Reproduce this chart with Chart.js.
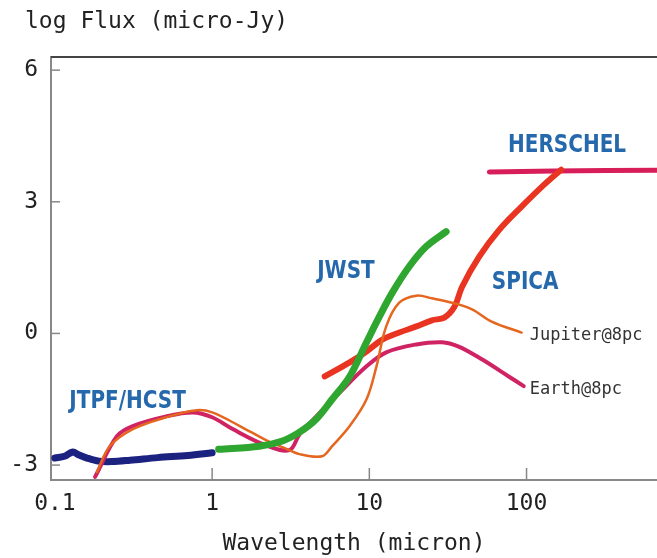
<!DOCTYPE html>
<html>
<head>
<meta charset="utf-8">
<script src="https://cdn.jsdelivr.net/npm/chart.js@4.4.0/dist/chart.umd.min.js"></script>
<style>
	html, body { margin: 0; padding: 0; background: #ffffff; }
</style>
</head>
<body>
<canvas id="flux" width="657" height="558"></canvas>
<script>
// Tick values and labels of both axes.
const xTickValues = [ 0.1, 1, 10, 100 ];
const xTickLabels = [ "0.1", "1", "10", "100" ];
const yTickValues = [ -3, 0, 3, 6 ];
const yTickLabels = [ "-3", "0", "3", "6" ];

// JTPF/HCST sensitivity (wavelength in micron, log flux in micro-Jy).
const jtpfWavelength = [ 0.1, 0.115, 0.13, 0.14, 0.16, 0.19, 0.23, 0.3, 0.45, 0.7, 1.0 ];
const jtpfFlux = [ -2.84, -2.8, -2.7, -2.76, -2.84, -2.91, -2.92, -2.89, -2.83, -2.78, -2.72 ];

// JWST sensitivity.
const jwstWavelength = [ 1.1, 2.0, 2.8, 3.6, 4.6, 5.8, 7.5, 9.6, 11.6, 14, 17.9, 23, 30.8 ];
const jwstFlux = [ -2.64, -2.57, -2.45, -2.25, -1.95, -1.5, -0.98, -0.2, 0.39, 0.93, 1.52, 1.98, 2.32 ];

// SPICA sensitivity.
const spicaWavelength = [ 5.2, 7.5, 9.6, 12.1, 15.5, 19.9, 25, 30, 34.7, 39, 50, 67, 93, 125, 166 ];
const spicaFlux = [ -0.98, -0.66, -0.41, -0.14, 0.02, 0.16, 0.3, 0.36, 0.6, 1.07, 1.75, 2.36, 2.89, 3.34, 3.73 ];

// HERSCHEL sensitivity.
const herschelWavelength = [ 58, 150, 676 ];
const herschelFlux = [ 3.68, 3.7, 3.72 ];

// Earth at 8 pc.
const earthWavelength = [ 0.18, 0.248, 0.313, 0.51, 0.75, 1.0, 1.35, 2.2, 3.1, 3.6, 4.6, 6.5, 9.6, 12.8, 19.9, 29, 37, 52, 77, 96 ];
const earthFlux = [ -3.27, -2.34, -2.11, -1.89, -1.8, -1.91, -2.18, -2.55, -2.66, -2.3, -1.89, -1.34, -0.75, -0.43, -0.25, -0.2, -0.3, -0.59, -0.98, -1.2 ];

// Jupiter at 8 pc.
const jupiterWavelength = [ 0.185, 0.223, 0.313, 0.51, 0.8, 1.0, 1.5, 2.2, 2.8, 3.6, 5.0, 5.8, 7.5, 9.6, 11.1, 12.8, 15.5, 19.9, 25, 33.6, 45, 60, 93 ];
const jupiterFlux = [ -3.16, -2.57, -2.18, -1.91, -1.75, -1.8, -2.11, -2.43, -2.59, -2.75, -2.8, -2.57, -2.11, -1.5, -0.75, 0.16, 0.7, 0.86, 0.8, 0.7, 0.55, 0.27, 0.02 ];

// Instrument and target names.
const instrumentNames = [ "HERSCHEL", "SPICA", "JWST", "JTPF/HCST" ];
const targetNames = [ "Jupiter@8pc", "Earth@8pc" ];

const toPoints = ( xs, ys ) => xs.map( ( v, i ) => ( { x: v, y: ys[ i ] } ) );

const serie = ( label, xs, ys, color, width ) => ( {
	label: label,
	data: toPoints( xs, ys ),
	borderColor: color,
	borderWidth: width,
	pointRadius: 0,
	tension: 0.35,
	borderCapStyle: "round",
	borderJoinStyle: "round",
	fill: false
} );

//
// Draws the top border, the inner tick marks and the text labels.
//
const decorations = {
	id: "decorations",
	afterDatasetsDraw( chart )
	{
		const { ctx, chartArea, scales: { x, y } } = chart;
		ctx.save();

		ctx.strokeStyle = "#444444";
		ctx.lineWidth = 2;
		ctx.beginPath();
		ctx.moveTo( chartArea.left, chartArea.top );
		ctx.lineTo( chartArea.right, chartArea.top );
		ctx.stroke();

		ctx.strokeStyle = "#888888";
		ctx.lineWidth = 1.5;
		yTickValues.forEach( v => {
			const py = y.getPixelForValue( v );
			ctx.beginPath();
			ctx.moveTo( chartArea.left, py );
			ctx.lineTo( chartArea.left + 9, py );
			ctx.stroke();
		} );
		xTickValues.slice( 1 ).forEach( v => {
			const px = x.getPixelForValue( v );
			ctx.beginPath();
			ctx.moveTo( px, chartArea.bottom );
			ctx.lineTo( px, chartArea.bottom - 12 );
			ctx.stroke();
		} );

		// Instrument names, anchored in data coordinates (narrow bold letters).
		const instrumentAt = [ [ 181, 4.29 ], [ 98, 1.15 ], [ 7.1, 1.42 ], [ 0.29, -1.54 ] ];
		ctx.fillStyle = "#2568ac";
		ctx.font = "bold 25px 'DejaVu Sans', sans-serif";
		ctx.textAlign = "center";
		ctx.textBaseline = "middle";
		instrumentNames.forEach( ( name, i ) => {
			ctx.save();
			ctx.translate( x.getPixelForValue( instrumentAt[ i ][ 0 ] ), y.getPixelForValue( instrumentAt[ i ][ 1 ] ) );
			ctx.scale( 0.8, 1 );
			ctx.fillText( name, 0, 0 );
			ctx.restore();
		} );

		// Target names, left-aligned after the end of each curve.
		const targetAt = [ [ 105, -0.06 ], [ 105, -1.29 ] ];
		ctx.fillStyle = "#333333";
		ctx.font = "17px 'DejaVu Sans Mono', monospace";
		ctx.textAlign = "left";
		targetNames.forEach( ( name, i ) => {
			ctx.fillText( name, x.getPixelForValue( targetAt[ i ][ 0 ] ), y.getPixelForValue( targetAt[ i ][ 1 ] ) );
		} );

		// Title of the Y axis, written horizontally above the plot.
		ctx.fillStyle = "#222222";
		ctx.font = "23px 'DejaVu Sans Mono', monospace";
		ctx.textAlign = "left";
		ctx.fillText( "log Flux (micro-Jy)", 25, 22 );

		ctx.restore();
	}
};

const axisFont = { family: "'DejaVu Sans Mono', monospace", size: 23 };

new Chart( document.getElementById( "flux" ),
	{
		type: "line",
		data: {
			datasets: [
				serie( "JWST", jwstWavelength, jwstFlux, "#2fa62f", 7 ),
				serie( "Jupiter@8pc", jupiterWavelength, jupiterFlux, "#e4661f", 2.5 ),
				serie( "Earth@8pc", earthWavelength, earthFlux, "#cf2363", 4 ),
				serie( "SPICA", spicaWavelength, spicaFlux, "#e83420", 6 ),
				serie( "HERSCHEL", herschelWavelength, herschelFlux, "#d81e5a", 5 ),
				serie( "JTPF/HCST", jtpfWavelength, jtpfFlux, "#1c2280", 7 )
			]
		},
		options: {
			responsive: false,
			animation: false,
			devicePixelRatio: 1,
			layout: {
				padding: { top: 57, left: 0, right: 0, bottom: 0 }
			},
			plugins: {
				legend: { display: false },
				tooltip: { enabled: false }
			},
			scales: {
				x: {
					type: "logarithmic",
					min: 0.0944,
					max: 676,
					afterBuildTicks: scale => { scale.ticks = xTickValues.map( v => ( { value: v } ) ); },
					afterFit: scale => { scale.height = 78; },
					grid: { display: false, drawTicks: false },
					border: { display: true, color: "#888888", width: 2 },
					ticks: {
						color: "#222222",
						font: axisFont,
						padding: 10,
						maxRotation: 0,
						autoSkip: false,
						callback: v => xTickLabels[ xTickValues.indexOf( v ) ]
					},
					title: {
						display: true,
						text: "Wavelength (micron)",
						color: "#222222",
						font: axisFont,
						padding: { top: 0, bottom: 0 }
					}
				},
				y: {
					min: -3.34,
					max: 6.3,
					afterBuildTicks: scale => { scale.ticks = yTickValues.map( v => ( { value: v } ) ); },
					afterFit: scale => { scale.width = 51; },
					grid: { display: false, drawTicks: false },
					border: { display: true, color: "#888888", width: 2 },
					ticks: {
						color: "#222222",
						font: axisFont,
						padding: 13,
						callback: v => yTickLabels[ yTickValues.indexOf( v ) ]
					}
				}
			}
		},
		plugins: [ decorations ]
	} );
</script>
</body>
</html>
